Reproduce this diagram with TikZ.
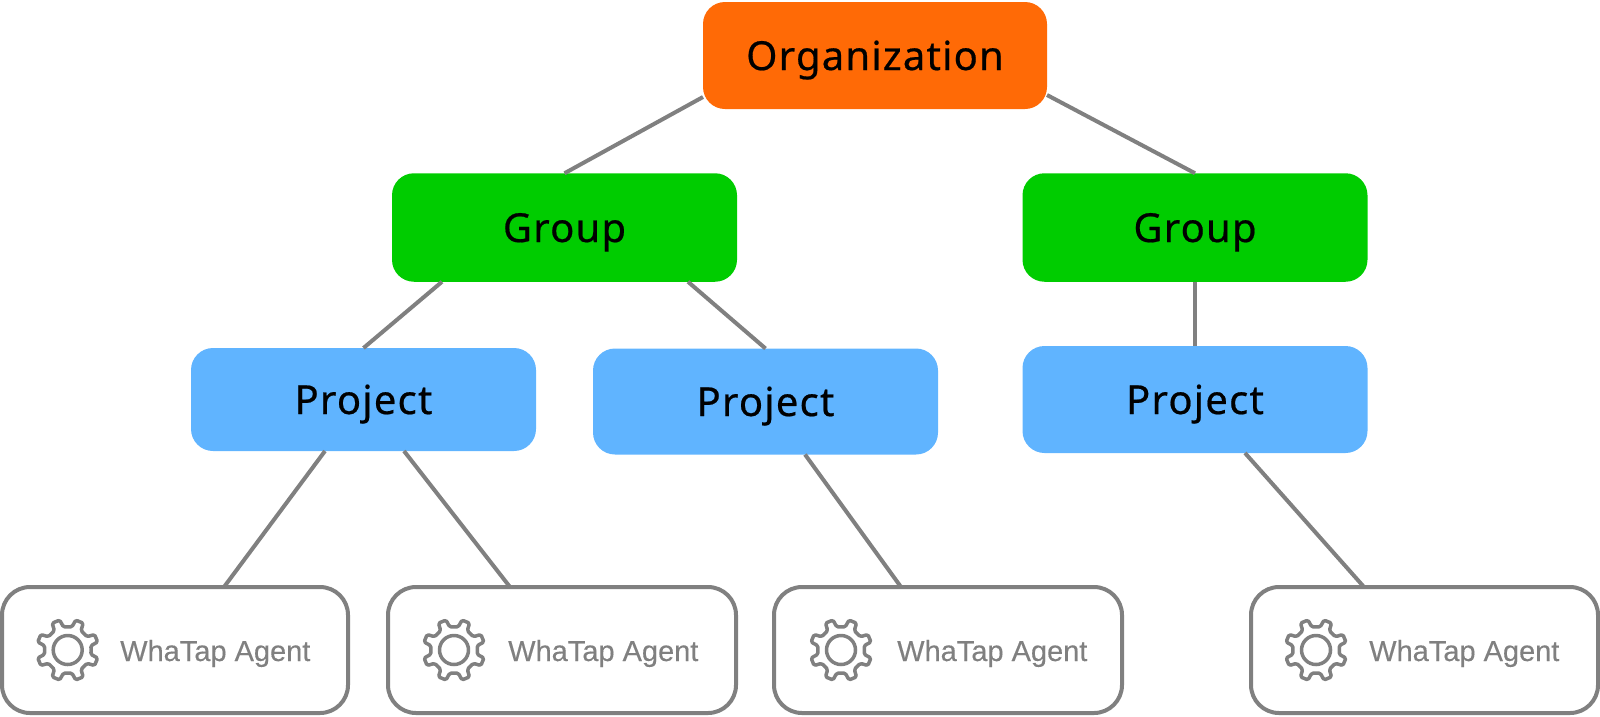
\documentclass[tikz,border=0pt]{standalone}
\usepackage{fontspec}
\newfontfamily\boxfont[LetterSpace=3,FakeBold=0.5]{Noto Sans}
\newfontfamily\agentfont[FakeBold=0.3]{Liberation Sans}
\definecolor{orgfill}{HTML}{FF6A06}
\definecolor{groupfill}{HTML}{00CC00}
\definecolor{projfill}{HTML}{60B4FF}
\definecolor{linegray}{HTML}{808080}
\tikzset{
  colorbox/.style={rectangle,rounded corners=22pt,outer sep=0pt,inner sep=0pt,text=black,
    font=\boxfont\fontsize{40}{42}\selectfont,text height=29pt,text depth=0pt},
  agentbox/.style={rectangle,draw=linegray,line width=4pt,rounded corners=28pt,fill=white,outer sep=0pt,inner sep=0pt},
  agenttext/.style={anchor=west,inner sep=0pt,text=linegray,font=\agentfont\fontsize{29}{32}\selectfont},
  link/.style={draw=linegray,line width=4pt},
  gearline/.style={draw=linegray,line width=3.5pt,line join=round},
  pics/gear/.style={code={
    \draw[gearline,rounded corners=1.5pt] (0:23.5)
      \foreach \k in {0,...,7}{
        -- ({\k*45+10.5}:23.5) -- ({\k*45+15}:31) -- ({\k*45+30}:31) -- ({\k*45+34.5}:23.5)
      } -- cycle;
    \draw[gearline] (0,0) circle[radius=14.5];
  }}
}
\begin{document}
\begin{tikzpicture}[x=1pt,y=-1pt]
\useasboundingbox (0,0) rectangle (1600,716);
\node[colorbox,fill=orgfill,minimum width=344pt,minimum height=107pt] (o) at (875,55.5) {Organization};
\node[colorbox,fill=groupfill,minimum width=345pt,minimum height=108.5pt] (g1) at (564.5,227.5) {Group};
\node[colorbox,fill=groupfill,minimum width=345pt,minimum height=108.5pt] (g2) at (1195,227.5) {Group};
\node[colorbox,fill=projfill,minimum width=345pt,minimum height=103pt] (p1) at (363.5,399.5) {Project};
\node[colorbox,fill=projfill,minimum width=345pt,minimum height=106pt] (p2) at (765.5,401.5) {Project};
\node[colorbox,fill=projfill,minimum width=345pt,minimum height=107pt] (p3) at (1195,399.5) {Project};
\node[agentbox,minimum width=346pt,minimum height=126pt] (a1) at (175,650) {};
\node[agentbox,minimum width=348pt,minimum height=126pt] (a2) at (562,650) {};
\node[agentbox,minimum width=348pt,minimum height=126pt] (a3) at (948,650) {};
\node[agentbox,minimum width=347pt,minimum height=126pt] (a4) at (1424.5,650) {};
\pic at (67.7,650) {gear};
\pic at (454,650) {gear};
\pic at (841,650) {gear};
\pic at (1316,650) {gear};
\node[agenttext] (t1) at (120,653.5) {WhaTap Agent};
\node[agenttext] (t2) at (508,653.5) {WhaTap Agent};
\node[agenttext] (t3) at (897,653.5) {WhaTap Agent};
\node[agenttext] (t4) at (1369,653.5) {WhaTap Agent};
\draw[link] ([yshift=-41.5pt]o.west) -- (g1.north);
\draw[link] ([yshift=-39.5pt]o.east) -- (g2.north);
\draw[link] ([xshift=-122.5pt]g1.south) -- (p1.north);
\draw[link] ([xshift=123.5pt]g1.south) -- (p2.north);
\draw[link] (g2.south) -- (p3.north);
\draw[link] ([xshift=-38.5pt]p1.south) -- ([xshift=49pt]a1.north);
\draw[link] ([xshift=40.5pt]p1.south) -- ([xshift=-52pt]a2.north);
\draw[link] ([xshift=39.5pt]p2.south) -- ([xshift=-47pt]a3.north);
\draw[link] ([xshift=50pt]p3.south) -- ([xshift=-60.5pt]a4.north);
\end{tikzpicture}
\end{document}
